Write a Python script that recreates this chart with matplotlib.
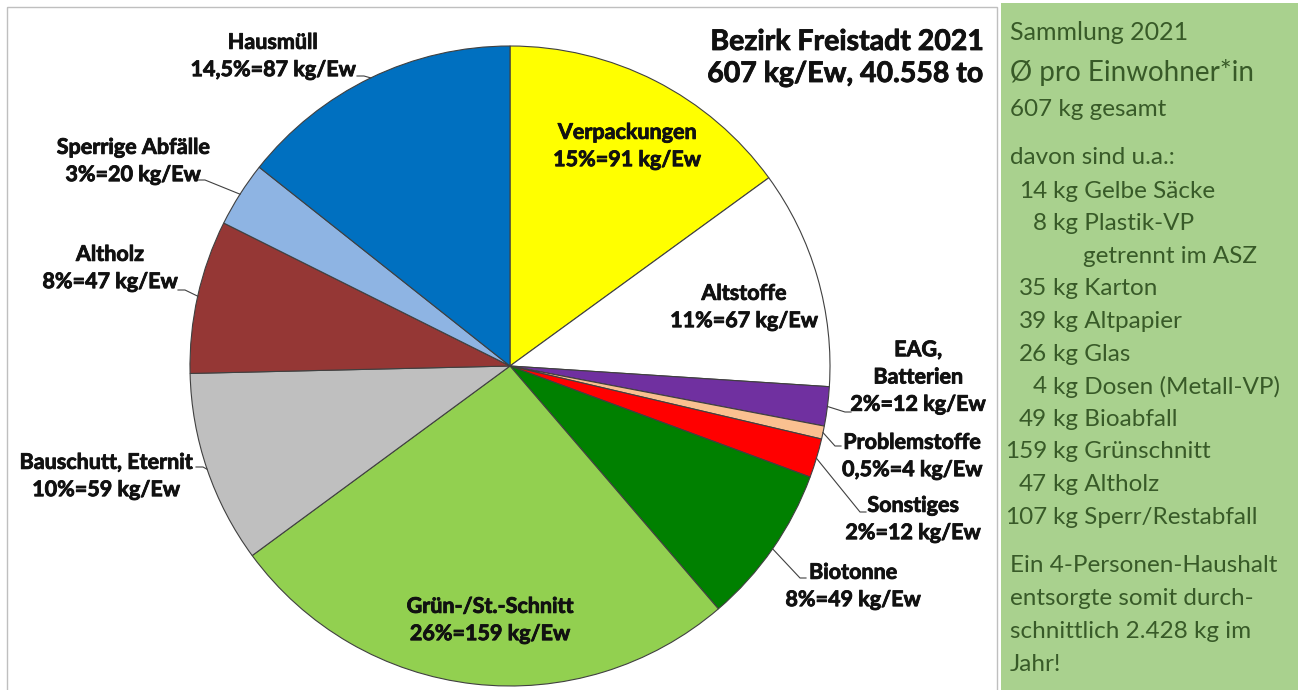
import matplotlib.pyplot as plt
import matplotlib.patheffects as pe
from matplotlib.patches import Rectangle
import numpy as np

plt.rcParams['font.family'] = ['Lato', 'DejaVu Sans']

# Sammlung 2021, kg pro Einwohner, im Uhrzeigersinn ab 12 Uhr
categories = ["Verpackungen", "Altstoffe", "EAG,\nBatterien", "Problemstoffe", "Sonstiges",
              "Biotonne", "Grün-/St.-Schnitt", "Bauschutt, Eternit", "Altholz",
              "Sperrige Abfälle", "Hausmüll"]
kg_per_ew = [91, 67, 12, 4, 12, 49, 159, 59, 47, 20, 87]
pct_text = ["15%", "11%", "2%", "0,5%", "2%", "8%", "26%", "10%", "8%", "3%", "14,5%"]
colors = ["#FFFF00", "#FFFFFF", "#7030A0", "#FAC090", "#FF0000", "#008000",
          "#92D050", "#BFBFBF", "#953735", "#8EB4E3", "#0070C0"]

# Seitenleiste
side_kg = [14, 8, None, 35, 39, 26, 4, 49, 159, 47, 107]
side_items = ["Gelbe Säcke", "Plastik-VP", "getrennt im ASZ", "Karton", "Altpapier", "Glas",
              "Dosen (Metall-VP)", "Bioabfall", "Grünschnitt", "Altholz", "Sperr/Restabfall"]

fig = plt.figure(figsize=(13, 6.9), dpi=100)
ax = fig.add_axes([0, 0, 1, 1])

cx, cy, r = 510, 366, 320
ax.pie(kg_per_ew, colors=colors, startangle=-90, counterclock=True, radius=r,
       center=(cx, cy), wedgeprops=dict(edgecolor="#404040", linewidth=0.8))
ax.set_xlim(0, 1300)
ax.set_ylim(690, 0)
ax.set_aspect('auto')
ax.axis('off')

# Rahmen + grüne Box
ax.add_patch(Rectangle((7, 7), 990, 700, fill=False, edgecolor="#BFBFBF", lw=1, zorder=0))
ax.add_patch(Rectangle((1001, 3), 297, 700, facecolor="#A9D18E", edgecolor="none", zorder=0))

# etwas fetter, wie Calibri Bold
heavy = [pe.withStroke(linewidth=0.6, foreground='#111111')]

# Beschriftung: (x, y Mitte des Textblocks), Leader-Anker (None = innen)
label_pos = [(627, 146), (744, 307), (918, 377), (912, 456), (913, 519),
             (853, 586), (490, 620), (106, 476), (110, 268), (133, 161), (273, 56)]
leader = [None, None, [(851, 412), (845, 412)], [(841, 446), (835, 446)],
          [(866, 512), (860, 512)], [(806, 578), (800, 578)], None,
          [(196, 467), (203, 467)], [(178, 290), (185, 290)],
          [(198, 180), (205, 180)], [(357, 76), (364, 76)]]

total = sum(kg_per_ew)
cum = np.cumsum([0] + kg_per_ew)
for i, name in enumerate(categories):
    txt = f"{name}\n{pct_text[i]}={kg_per_ew[i]} kg/Ew"
    x, y = label_pos[i]
    ax.text(x, y, txt, ha='center', va='center', fontsize=15.5, fontweight='bold',
            color='#111111', linespacing=1.37, path_effects=heavy)
    if leader[i] is not None:
        ang = np.radians(-90 + 360 * (cum[i] + kg_per_ew[i] / 2) / total)
        ex, ey = cx + r * np.cos(ang), cy + r * np.sin(ang)
        pts = leader[i] + [(ex, ey)]
        ax.plot([p[0] for p in pts], [p[1] for p in pts], color='#404040', lw=0.8)

ax.text(984, 42, "Bezirk Freistadt 2021", ha='right', va='center', fontsize=20.5,
        fontweight='bold', color='#111111', path_effects=heavy)
ax.text(984, 74, "607 kg/Ew, 40.558 to", ha='right', va='center', fontsize=20.5,
        fontweight='bold', color='#111111', path_effects=heavy)

# Text in der grünen Box
tc = "#385A28"
fs = 17.5
ax.text(1010, 33, "Sammlung 2021", fontsize=18, color=tc, va='center')
ax.text(1010, 72, "Ø pro Einwohner*in", fontsize=20, color=tc, va='center')
ax.text(1010, 110, "607 kg gesamt", fontsize=fs, color=tc, va='center')
ax.text(1010, 158, "davon sind u.a.:", fontsize=fs, color=tc, va='center')
y = 191
for kg, item in zip(side_kg, side_items):
    if kg is None:
        ax.text(1083, y, item, fontsize=fs, color=tc, va='center')
    else:
        ax.text(1047, y, str(kg), fontsize=fs, color=tc, va='center', ha='right')
        ax.text(1053, y, "kg " + item, fontsize=fs, color=tc, va='center')
    y += 32.6
for j, line in enumerate(["Ein 4-Personen-Haushalt", "entsorgte somit durch-",
                          "schnittlich 2.428 kg im", "Jahr!"]):
    ax.text(1010, 566 + j * 32.7, line, fontsize=fs, color=tc, va='center')

fig.savefig("out.png", dpi=100)
